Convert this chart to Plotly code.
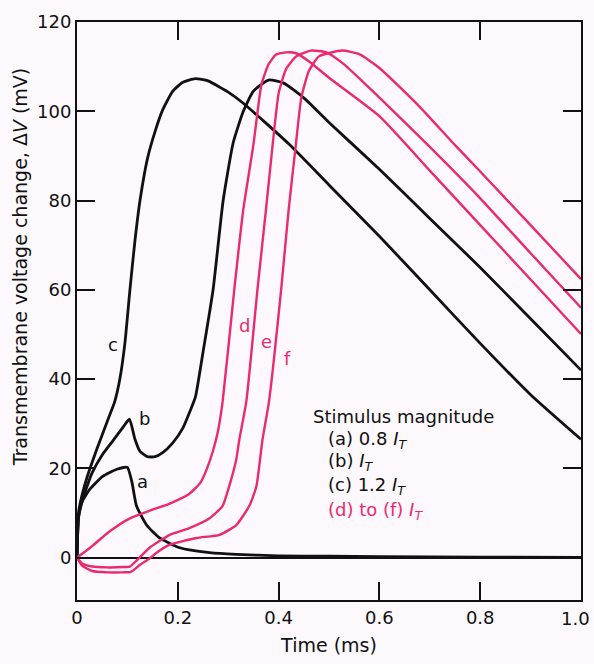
import plotly.graph_objects as go

# ---- data (time in ms, voltage change in mV) ----
a_t = [0, 0.003, 0.01, 0.026, 0.051, 0.079, 0.1, 0.109, 0.118, 0.138, 0.164, 0.204, 0.263, 0.316, 0.4, 0.5, 0.6, 0.8, 1.0]
a_v = [0, 9, 12.5, 15.4, 18.2, 19.8, 20.2, 16.9, 11.6, 7.3, 4.4, 2.2, 1.1, 0.7, 0.4, 0.3, 0.2, 0.1, 0.05]

b_t = [0, 0.003, 0.01, 0.02, 0.03, 0.05, 0.07, 0.09, 0.104, 0.115, 0.125, 0.14, 0.155, 0.17, 0.19, 0.21,
       0.225, 0.235, 0.25, 0.27, 0.29, 0.31, 0.33, 0.35, 0.38, 0.41, 0.45, 0.5, 0.6, 0.7, 0.8, 0.9, 1.0]
b_v = [0, 9, 12.5, 16, 19, 23, 26, 29, 31, 26.5, 23.8, 22.6, 22.6, 23.5, 25.7, 29,
       33, 36, 46, 60, 80, 93, 100, 104.5, 107, 106.3, 103, 97.5, 87, 76, 65, 53.5, 42]

c_t = [0, 0.003, 0.01, 0.02, 0.04, 0.06, 0.075, 0.085, 0.095, 0.105, 0.115, 0.125, 0.14, 0.155, 0.17, 0.19, 0.21, 0.235,
       0.26, 0.3, 0.33, 0.42, 0.5, 0.6, 0.7, 0.8, 0.9, 1.0]
c_v = [0, 10, 14, 18, 24.5, 30.5, 35, 40, 48, 60, 71, 80, 89.5, 95.5, 100.3, 104.5, 106.5, 107.3,
       106.8, 104.3, 101.8, 92.7, 83.5, 72, 60, 48, 36.5, 26.5]

d_t = [0, 0.026, 0.065, 0.105, 0.144, 0.184, 0.223, 0.245, 0.258, 0.27, 0.28, 0.289, 0.312, 0.33, 0.35,
       0.366, 0.38, 0.395, 0.415, 0.435, 0.46, 0.5, 0.6, 0.7, 0.8, 0.9, 1.0]
d_v = [0, 2.2, 5.9, 8.8, 10.5, 12.1, 14.3, 16.8, 20, 24, 28.5, 35, 60, 78, 92.5,
       106, 110.5, 112.7, 113.2, 113, 111.2, 107.5, 98.9, 86.7, 74.5, 62.3, 50.1]

e_t = [0, 0.01, 0.03, 0.06, 0.09, 0.105, 0.118, 0.144, 0.184, 0.223, 0.263, 0.289, 0.302, 0.316, 0.322,
       0.336, 0.358, 0.375, 0.388, 0.40, 0.415, 0.435, 0.464, 0.495, 0.53, 0.57, 0.619, 0.7, 0.8, 0.9, 1.0]
e_v = [0, -1.3, -2.0, -2.2, -2.1, -2.0, -0.7, 2.2, 5.1, 6.6, 8.8, 11.6, 16, 22, 26.4,
       35, 60, 78, 92.3, 104, 109.5, 112.3, 113.6, 113.2, 110.5, 106.3, 101, 92, 80.5, 68.2, 56]

f_t = [0, 0.01, 0.03, 0.06, 0.09, 0.107, 0.125, 0.144, 0.158, 0.184, 0.237, 0.283, 0.316, 0.342, 0.356,
       0.368, 0.381, 0.405, 0.42, 0.434, 0.445, 0.46, 0.48, 0.526, 0.56, 0.6, 0.68, 0.751, 0.8, 0.9, 1.0]
f_v = [0, -1.8, -3.0, -3.3, -3.3, -3.2, -1.6, -0.2, 1.1, 2.9, 4.4, 5.1, 7.3, 11.6, 16,
       26.4, 35, 60, 78, 92.3, 103, 109, 112.3, 113.6, 112.8, 109.7, 101, 92.3, 86.5, 74.5, 62.4]

x_ticks = [0, 0.2, 0.4, 0.6, 0.8, 1.0]
x_tick_labels = ["0", "0.2", "0.4", "0.6", "0.8", "1.0"]
y_ticks = [0, 20, 40, 60, 80, 100, 120]

BLACK = "#111111"
PINK = "#ea2a70"
FONT = "DejaVu Sans"

fig = go.Figure()
for t, v, col, w in [(a_t, a_v, BLACK, 2.8), (b_t, b_v, BLACK, 2.8), (c_t, c_v, BLACK, 2.8),
                     (d_t, d_v, PINK, 2.4), (e_t, e_v, PINK, 2.4), (f_t, f_v, PINK, 2.4)]:
    fig.add_trace(go.Scatter(x=t, y=v, mode="lines",
                             line=dict(color=col, width=w, shape="spline", smoothing=0.5),
                             showlegend=False, hoverinfo="skip"))

labels = [("c", 0.071, 47.7, BLACK), ("b", 0.134, 31.2, BLACK), ("a", 0.130, 17.1, BLACK),
          ("d", 0.333, 52.1, PINK), ("e", 0.375, 48.4, PINK), ("f", 0.417, 44.6, PINK)]
for txt, x, y, col in labels:
    fig.add_annotation(x=x, y=y, text=txt, showarrow=False,
                       font=dict(family=FONT, size=18, color=col))

legend_lines = [
    ("Stimulus magnitude", 0.464, 31.6, BLACK),
    ("(a) 0.8 <i>I</i><sub><i>T</i></sub>", 0.494, 26.4, BLACK),
    ("(b) <i>I</i><sub><i>T</i></sub>", 0.494, 21.5, BLACK),
    ("(c) 1.2 <i>I</i><sub><i>T</i></sub>", 0.494, 16.0, BLACK),
    ("(d) to (f) <i>I</i><sub><i>T</i></sub>", 0.494, 10.5, PINK),
]
for txt, x, y, col in legend_lines:
    fig.add_annotation(x=x, y=y, text=txt, showarrow=False, xanchor="left", yanchor="middle",
                       font=dict(family=FONT, size=18, color=col))

# last x tick label would overflow the page edge; place it as a text at its tick
fig.add_annotation(x=x_ticks[-1], y=0, xref="x", yref="paper", text=x_tick_labels[-1],
                   showarrow=False, xanchor="center", yanchor="top", xshift=-6, yshift=-6,
                   font=dict(family=FONT, size=18, color=BLACK))

# y-axis title (placed like the original, a little above the plot's centre)
fig.add_annotation(x=-0.1126, y=0.576, xref="paper", yref="paper",
                   text="Transmembrane voltage change, Δ<i>V</i> (mV)", textangle=-90,
                   showarrow=False, xanchor="center", yanchor="middle",
                   font=dict(family=FONT, size=19, color=BLACK))

axis_common = dict(showline=True, linecolor=BLACK, linewidth=2, mirror="allticks",
                   ticks="inside", ticklen=18, tickwidth=1.5, tickcolor=BLACK,
                   showgrid=False, tickfont=dict(family=FONT, size=18, color=BLACK))

fig.update_layout(
    width=594, height=664,
    margin=dict(l=77, r=11, t=14, b=61),
    paper_bgcolor="#fcf8fc", plot_bgcolor="#fcf8fc",
    xaxis=dict(range=[0, 1.0], tickvals=x_ticks, ticktext=x_tick_labels[:-1] + [""],
               title=dict(text="Time (ms)", font=dict(family=FONT, size=19, color=BLACK), standoff=12),
               zeroline=False, **axis_common),
    yaxis=dict(range=[-9.5, 120], tickvals=y_ticks,
               zeroline=True, zerolinecolor=BLACK, zerolinewidth=2, **axis_common),
)

fig.write_html("out.html")
